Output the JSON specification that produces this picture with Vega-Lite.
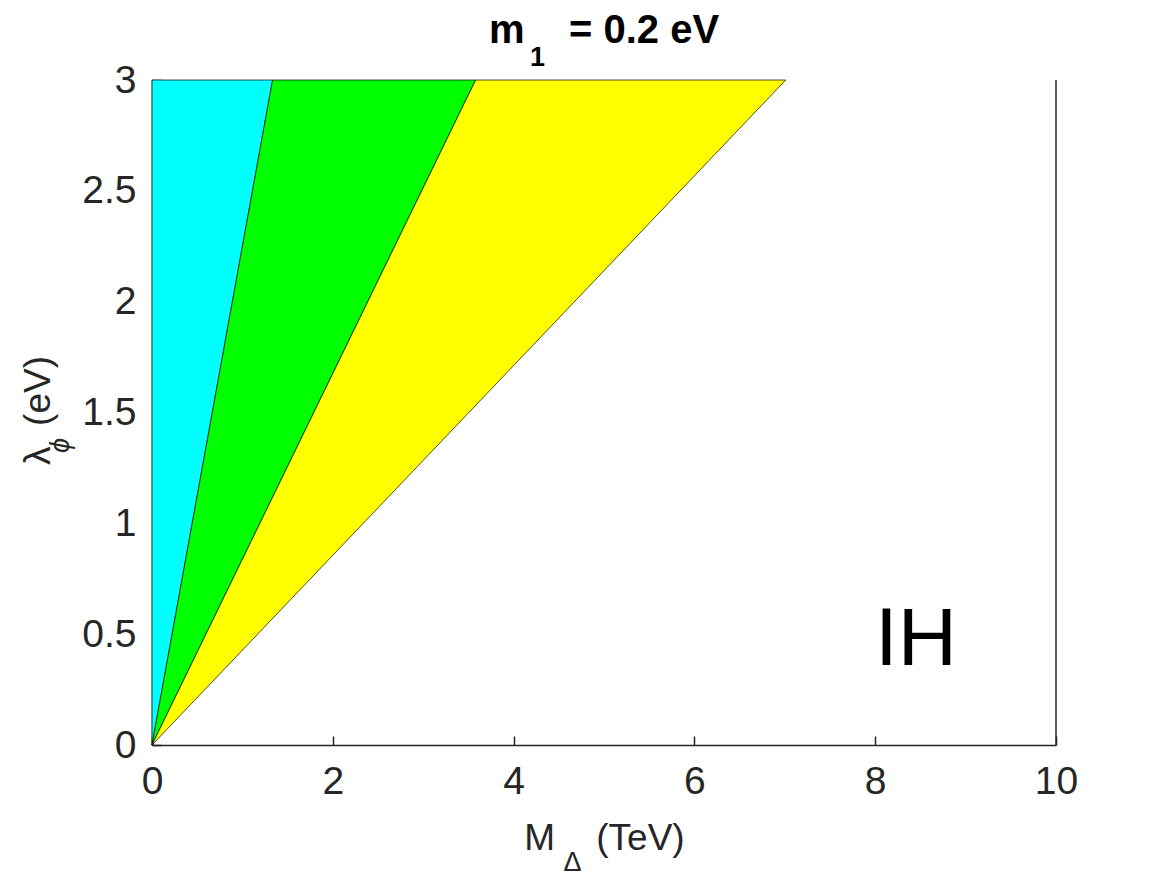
{
  "$schema": "https://vega.github.io/schema/vega-lite/v6.json",
  "width": 904,
  "height": 665,
  "autosize": {"type": "none"},
  "padding": {"left": 152, "top": 80, "right": 111, "bottom": 130},
  "background": "white",
  "title": {"text": "m\u00a0\u00a0\u00a0\u00a0= 0.2 eV", "frame": "group", "anchor": "middle", "font": "Liberation Sans", "fontSize": 40, "fontWeight": "bold", "color": "black", "baseline": "alphabetic", "offset": -40},
  "config": {
    "view": {"stroke": null},
    "axis": {"grid": false, "labelFlush": false, "domainColor": "#262626", "domainWidth": 1.5, "tickColor": "#262626", "tickWidth": 1.5, "labelFont": "Liberation Sans", "titleFont": "Liberation Sans", "labelColor": "#262626", "titleColor": "#262626", "titleFontWeight": "normal"}
  },
  "datasets": {
    "regions": [
      {"region": "cyan", "lam": 0, "lo": 0, "hi": 0},
      {"region": "cyan", "lam": 3, "lo": 0, "hi": 1.334},
      {"region": "green", "lam": 0, "lo": 0, "hi": 0},
      {"region": "green", "lam": 3, "lo": 1.334, "hi": 3.58},
      {"region": "yellow", "lam": 0, "lo": 0, "hi": 0},
      {"region": "yellow", "lam": 3, "lo": 3.58, "hi": 7.01}
    ]
  },
  "data": {"name": "regions"},
  "layer": [
    {
      "mark": {"type": "area", "orient": "horizontal", "stroke": "black", "strokeWidth": 0.7, "opacity": 1},
      "encoding": {
        "y": {"field": "lam", "type": "quantitative", "scale": {"domain": [0, 3], "nice": false},
          "axis": {"values": [0, 0.5, 1, 1.5, 2, 2.5, 3], "format": "~g", "tickSize": -9, "labelFontSize": 39, "labelPadding": 25, "title": "λ\u00a0\u00a0(eV)", "titleFontSize": 37, "titleAngle": 270, "titleBaseline": "alphabetic", "titleX": -103, "titleY": 330}},
        "x": {"field": "lo", "type": "quantitative", "stack": null, "scale": {"domain": [0, 10], "nice": false},
          "axis": {"values": [0, 2, 4, 6, 8, 10], "tickSize": -9, "labelFontSize": 39, "labelPadding": 26, "title": "M\u00a0\u00a0\u00a0\u00a0(TeV)", "titleFontSize": 37, "titleBaseline": "alphabetic", "titleY": 104}},
        "x2": {"field": "hi"},
        "color": {"field": "region", "type": "nominal", "scale": {"domain": ["cyan", "green", "yellow"], "range": ["#00FFFF", "#00FF00", "#FFFF00"]}, "legend": null}
      }
    },
    {
      "data": {"values": [{"edge": 10}]},
      "mark": {"type": "rule", "color": "#262626", "strokeWidth": 1.5},
      "encoding": {"x": {"field": "edge", "type": "quantitative", "axis": null}}
    },
    {
      "data": {"values": [{"label": "IH", "mx": 8.45, "ly": 0.36}]},
      "mark": {"type": "text", "fontSize": 82, "font": "Liberation Sans", "color": "black", "baseline": "alphabetic", "align": "center"},
      "encoding": {
        "x": {"field": "mx", "type": "quantitative", "axis": null},
        "y": {"field": "ly", "type": "quantitative", "axis": null},
        "text": {"field": "label"}
      }
    },
    {
      "mark": {"type": "point", "opacity": 0},
      "encoding": {
        "x": {"field": "lo", "type": "quantitative", "axis": {"orient": "bottom", "domain": false, "ticks": false, "labels": false, "title": "Δ", "titleFontSize": 27, "titleBaseline": "alphabetic", "titleX": 420, "titleY": 125}},
        "y": {"field": "lam", "type": "quantitative", "axis": {"orient": "left", "domain": false, "ticks": false, "labels": false, "title": "ϕ", "titleFontSize": 27, "titleFontStyle": "italic", "titleAngle": 270, "titleBaseline": "middle", "titleX": -92, "titleY": 365}}
      }
    },
    {
      "mark": {"type": "point", "opacity": 0},
      "encoding": {
        "x": {"field": "lo", "type": "quantitative", "axis": {"orient": "top", "domain": false, "ticks": false, "labels": false, "title": "1", "titleFontSize": 27, "titleFontWeight": "bold", "titleColor": "black", "titleBaseline": "alphabetic", "titleX": 385, "titleY": -15}},
        "y": {"field": "lam", "type": "quantitative", "axis": null}
      }
    }
  ],
  "resolve": {"axis": {"x": "independent", "y": "independent"}}
}
